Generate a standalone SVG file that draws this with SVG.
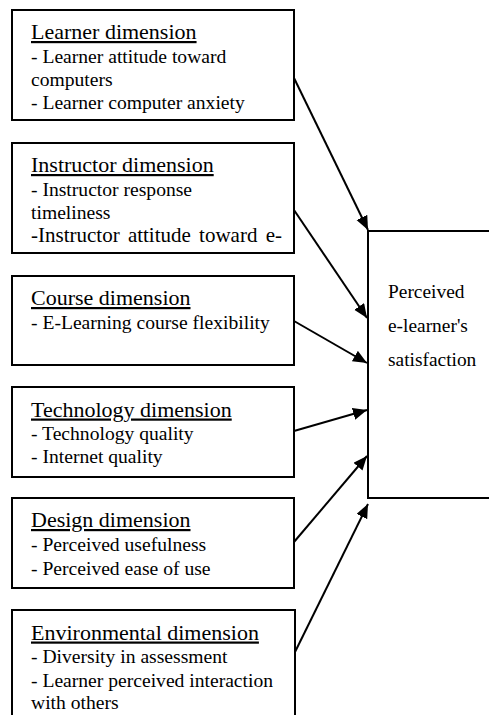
<svg xmlns="http://www.w3.org/2000/svg" width="489" height="715" viewBox="0 0 489 715">
<style>
.box{fill:#fff;stroke:#000;stroke-width:2}
.t{font-family:"Liberation Serif","Times New Roman",serif;font-size:19.6px;fill:#000}
.h{font-size:22px;text-decoration:underline}
.tt{font-family:"Liberation Serif","Times New Roman",serif;font-size:19.4px;fill:#000}
.c{stroke:#000;stroke-width:2;fill:none}
</style>
<defs>
<marker id="ah" markerUnits="userSpaceOnUse" markerWidth="15" markerHeight="13" refX="14" refY="6" orient="auto">
<path d="M0,0 L14,6 L0,12 z" fill="#000"/>
</marker>
</defs>
<rect width="489" height="715" fill="#fff"/>
<g id="learner">
<rect class="box" x="12" y="10" width="282" height="110"/>
<text class="t h" x="31" y="39">Learner dimension</text>
<text class="t" x="31" y="62.5">- Learner attitude toward</text>
<text class="t" x="31" y="86">computers</text>
<text class="t" x="31" y="109">- Learner computer anxiety</text>
</g>
<g id="instructor">
<rect class="box" x="12" y="143" width="282" height="110"/>
<text class="t h" x="31" y="172">Instructor dimension</text>
<text class="t" x="31" y="195.5">- Instructor response</text>
<text class="t" x="31" y="218.5">timeliness</text>
<text class="t" x="31" y="242" font-size="21" style="font-size:21px" word-spacing="3">-Instructor attitude toward e-</text>
</g>
<g id="course">
<rect class="box" x="12" y="276" width="282" height="89"/>
<text class="t h" x="31" y="305">Course dimension</text>
<text class="t" x="31" y="328.5">- E-Learning course flexibility</text>
</g>
<g id="technology">
<rect class="box" x="12" y="387" width="282" height="90"/>
<text class="t h" x="31" y="416.5">Technology dimension</text>
<text class="t" x="31" y="440">- Technology quality</text>
<text class="t" x="31" y="463">- Internet quality</text>
</g>
<g id="design">
<rect class="box" x="12" y="498" width="282" height="90"/>
<text class="t h" x="31" y="527">Design dimension</text>
<text class="t" x="31" y="551">- Perceived usefulness</text>
<text class="t" x="31" y="574.5">- Perceived ease of use</text>
</g>
<g id="environmental">
<rect class="box" x="12" y="610" width="283" height="120"/>
<text class="t h" x="31" y="639.5">Environmental dimension</text>
<text class="t" x="31" y="663">- Diversity in assessment</text>
<text class="t" x="31" y="686.5">- Learner perceived interaction</text>
<text class="t" x="31" y="709">with others</text>
</g>
<g id="satisfaction">
<rect class="box" x="368" y="231" width="140" height="267"/>
<text class="tt" x="388" y="298">Perceived</text>
<text class="tt" x="388" y="332">e-learner's</text>
<text class="tt" x="388" y="366">satisfaction</text>
</g>
<g id="connectors">
<line class="c" x1="294" y1="78" x2="368" y2="230" marker-end="url(#ah)"/>
<line class="c" x1="294" y1="210" x2="367" y2="318" marker-end="url(#ah)"/>
<line class="c" x1="294" y1="321" x2="367" y2="363" marker-end="url(#ah)"/>
<line class="c" x1="294" y1="431" x2="367" y2="410" marker-end="url(#ah)"/>
<line class="c" x1="294" y1="542" x2="367" y2="456" marker-end="url(#ah)"/>
<line class="c" x1="295" y1="652" x2="368" y2="504" marker-end="url(#ah)"/>
</g>
</svg>
